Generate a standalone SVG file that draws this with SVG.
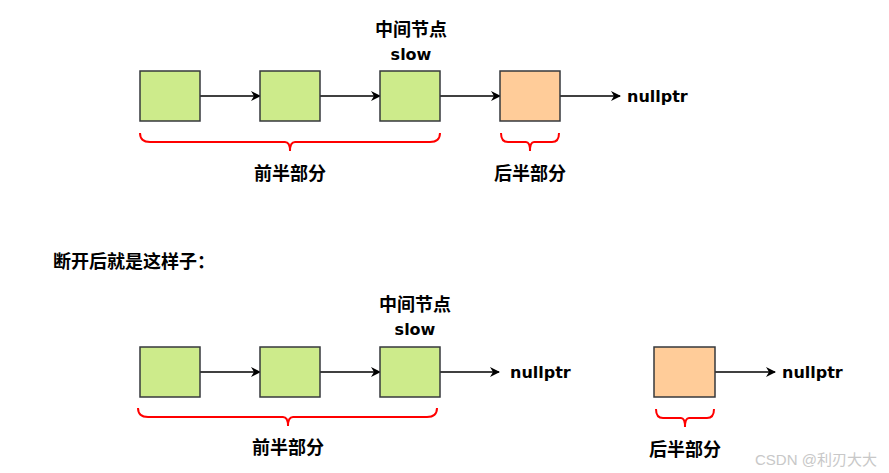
<svg xmlns="http://www.w3.org/2000/svg" width="889" height="473" viewBox="0 0 889 473">
<defs>
<style>
.g{fill:#cdeb8b;stroke:#36393d;stroke-width:1.5}
.o{fill:#ffcc99;stroke:#36393d;stroke-width:1.5}
.a{stroke:#000;stroke-width:1.3;fill:none;marker-end:url(#ah)}
.b{stroke:#ff0000;stroke-width:2;fill:none}
.t{font-family:"DejaVu Sans","Noto Sans CJK SC",sans-serif;font-weight:bold;fill:#000;font-size:16px}
.c{font-family:"Noto Sans CJK SC",sans-serif;font-weight:bold;fill:#000;font-size:18px}
</style>
<marker id="ah" viewBox="0 0 10 10" refX="9" refY="5" markerWidth="10" markerHeight="10" markerUnits="userSpaceOnUse" orient="auto">
<path d="M0,0 L10,5 L0,10 L3,5 Z" fill="#000"/>
</marker>
</defs>
<rect width="889" height="473" fill="#fff"/>
<g id="connectors">
<line class="a" x1="200" y1="96" x2="260" y2="96"/>
<line class="a" x1="320" y1="96" x2="380" y2="96"/>
<line class="a" x1="440" y1="96" x2="500" y2="96"/>
<line class="a" x1="560" y1="96" x2="620" y2="96"/>
<line class="a" x1="200" y1="372" x2="260" y2="372"/>
<line class="a" x1="320" y1="372" x2="380" y2="372"/>
<line class="a" x1="440" y1="372" x2="499" y2="372"/>
<line class="a" x1="715" y1="372" x2="775" y2="372"/>
</g>
<g id="top-n1"><rect class="g" x="140" y="71" width="60" height="50"/></g>
<g id="top-n2"><rect class="g" x="260" y="71" width="60" height="50"/></g>
<g id="top-n3"><rect class="g" x="380" y="71" width="60" height="50"/></g>
<g id="top-n4"><rect class="o" x="500" y="71" width="60" height="50"/></g>
<g id="top-null"><text class="t" x="627" y="102">nullptr</text></g>
<g id="top-mid"><text class="c" x="411" y="36" text-anchor="middle">中间节点</text><text class="t" x="411" y="60" text-anchor="middle">slow</text></g>
<g id="top-brace1"><path class="b" d="M140,133 Q140,142 150,142 L285,142 Q290,142 290,151 Q290,142 295,142 L430,142 Q440,142 440,133"/><text class="c" x="290" y="180" text-anchor="middle">前半部分</text></g>
<g id="top-brace2"><path class="b" d="M501,133 Q501,142 508,142 L526,142 Q530,142 530,151 Q530,142 534,142 L552,142 Q559,142 559,133"/><text class="c" x="530" y="180" text-anchor="middle">后半部分</text></g>
<g id="caption"><text class="c" x="53" y="268" font-size="16">断开后就是这样子：</text></g>
<g id="bot-n1"><rect class="g" x="140" y="347" width="60" height="50"/></g>
<g id="bot-n2"><rect class="g" x="260" y="347" width="60" height="50"/></g>
<g id="bot-n3"><rect class="g" x="380" y="347" width="60" height="50"/></g>
<g id="bot-null1"><text class="t" x="510" y="378">nullptr</text></g>
<g id="bot-mid"><text class="c" x="415" y="311" text-anchor="middle">中间节点</text><text class="t" x="415" y="335" text-anchor="middle">slow</text></g>
<g id="bot-brace1"><path class="b" d="M138,408 Q138,417 148,417 L283,417 Q288,417 288,426 Q288,417 293,417 L427,417 Q437,417 437,408"/><text class="c" x="288" y="454" text-anchor="middle">前半部分</text></g>
<g id="bot-n4"><rect class="o" x="654" y="347" width="61" height="50"/></g>
<g id="bot-null2"><text class="t" x="782" y="378">nullptr</text></g>
<g id="bot-brace2"><path class="b" d="M656,409 Q656,418 663,418 L681,418 Q685,418 685,427 Q685,418 689,418 L707,418 Q714,418 714,409"/><text class="c" x="685" y="456" text-anchor="middle">后半部分</text></g>
<g id="watermark"><text x="755" y="465" font-family="'Liberation Sans','Noto Sans CJK SC',sans-serif" font-size="15" fill="#c8c8c8">CSDN @利刃大大</text></g>
</svg>
